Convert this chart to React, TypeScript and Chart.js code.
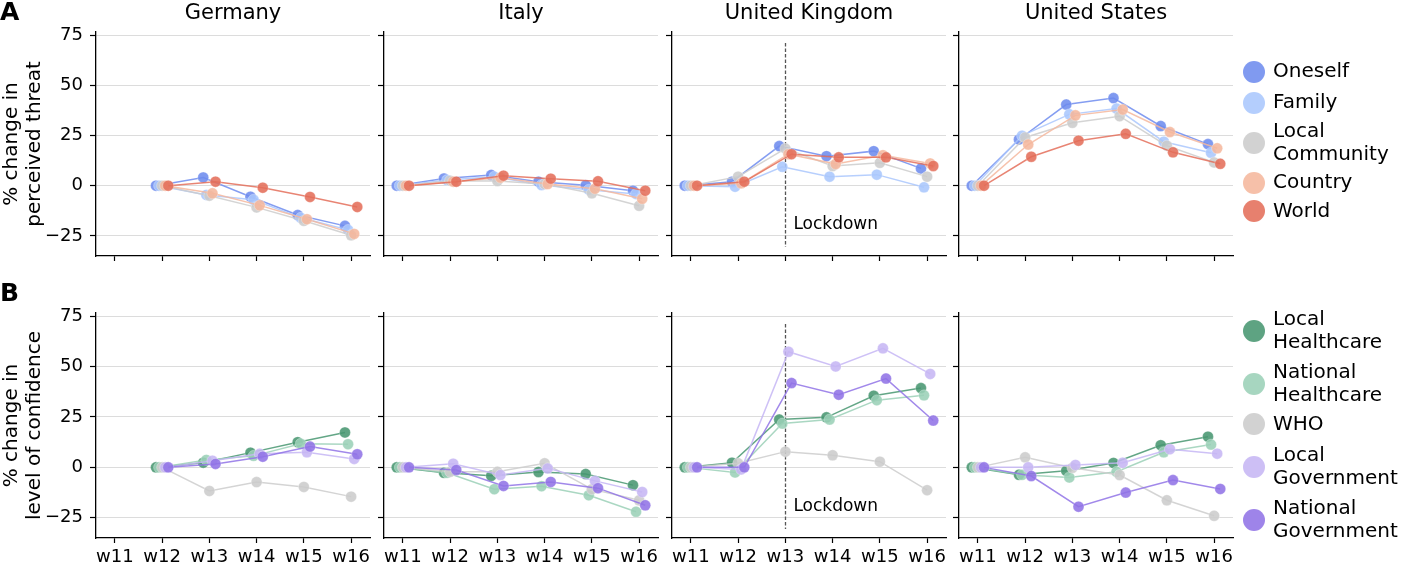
import React, { useEffect, useRef } from 'react';
import { Chart, registerables } from 'chart.js';

Chart.register(...registerables);

const FONT = '"DejaVu Sans", sans-serif';

// ---------- data ----------
const weeks = ['w11', 'w12', 'w13', 'w14', 'w15', 'w16'];
const countries = ['Germany', 'Italy', 'United Kingdom', 'United States'];
const threatSeries = ['Oneself', 'Family', 'Local Community', 'Country', 'World'];
const confidenceSeries = ['Local Healthcare', 'National Healthcare', 'WHO', 'Local Government', 'National Government'];
const yTicks = [-25, 0, 25, 50, 75];

// rows: one array per series, one value per week (null = no data)
const threatGermany = [
  [null, 0, 4.1, -5.5, -14.6, -20],
  [null, 0, -4.6, -7, -16, -22],
  [null, 0, -5, -10.8, -17.5, -24.7],
  [null, 0, -3.8, -9.8, -16.7, -24],
  [null, 0, 2, -1, -5.6, -10.6],
];
const threatItaly = [
  [0, 3.6, 5.3, 2, 0.2, -2.5],
  [0, 2.8, 4.5, 0.3, -2, -4.1],
  [0, 2.5, 2.3, 0.8, -3.8, -10],
  [0, 2, 4, 0.8, -1.5, -6.5],
  [0, 2, 5, 3.5, 2.2, -2.5],
];
const threatUK = [
  [0, 2, 19.7, 14.7, 17.2, 8.6],
  [0, -0.5, 9.4, 4.5, 5.5, -0.8],
  [0, 4.5, 18.5, 9.8, 11.4, 4.5],
  [0, 1.2, 15.7, 10.8, 15.2, 11.1],
  [0, 2, 15.7, 14.1, 14.1, 9.8],
];
const threatUS = [
  [0, 23, 40.4, 43.6, 29.7, 20.7],
  [0, 24.9, 35.5, 38.4, 21.9, 16.4],
  [0, 24, 31.3, 34.6, 19.9, 11.6],
  [0, 20.5, 35, 37.9, 26.7, 18.6],
  [0, 14.4, 22.4, 25.8, 16.6, 10.9],
];
const confGermany = [
  [null, 0, 2.3, 7.3, 12.5, 17.3],
  [null, 0, 3.7, 5.7, 11.7, 11.5],
  [null, 0, -11.7, -7.3, -9.7, -14.5],
  [null, 0, 3.3, 6.7, 7.5, 4.2],
  [null, 0, 1.7, 5.3, 10.3, 6.5],
];
const confItaly = [
  [0, -2.7, -4.2, -2.3, -3.3, -8.8],
  [0, -2.7, -10.8, -9.3, -13.8, -22],
  [0, -2.2, -2.2, 2, -10.8, -16.3],
  [0, 1.8, -3.8, -0.5, -6.7, -12.2],
  [0, -1.3, -9.2, -7.2, -10.3, -18.8],
];
const confUK = [
  [0, 2.3, 23.7, 24.8, 35.5, 39.3],
  [0, -2.5, 21.7, 23.7, 33.3, 35.7],
  [0, 2, 7.8, 6, 2.8, -11.3],
  [0, -1, 57.3, 50, 59, 46.3],
  [0, 0, 41.8, 36, 44, 23.2],
];
const confUS = [
  [0, -3.7, -1.7, 2.2, 11, 15.2],
  [0, -3.7, -5, -2.2, 7.5, 11.3],
  [0, 5, -0.2, -3.8, -16.3, -24],
  [0, 0, 1.2, 2.3, 9, 6.8],
  [0, -4.3, -19.5, -12.5, -6.3, -10.7],
];

const threatByCountry = [threatGermany, threatItaly, threatUK, threatUS];
const confByCountry = [confGermany, confItaly, confUK, confUS];
const lockdownWeek = 2; // index of w13, UK only

// ---------- styles ----------
const threatColors = [[110, 140, 238], [170, 199, 253], [204, 204, 204], [245, 183, 157], [228, 110, 90]];
const confColors = [[72, 150, 113], [155, 208, 183], [204, 204, 204], [198, 182, 244], [145, 115, 230]];
const dodge = [-0.13, -0.065, 0, 0.065, 0.13];

const COL_LEFT = [96, 384, 672, 959];
const PLOT_W = 274;
const EXTRA_R = 24; // spare canvas room on the right, kept as layout padding
const ROWS = [
  { top: 32, bottom: 256, canvasTop: 0, canvasBottom: 286 },
  { top: 313, bottom: 538, canvasTop: 270, canvasBottom: 566 },
];

const rgba = (c: number[], a: number) => `rgba(${c[0]},${c[1]},${c[2]},${a})`;
const fmt = (v: number) => String(v).replace('-', '\u2212');

const overlay = {
  id: 'overlay',
  beforeDatasetsDraw(chart: any, _args: any, opts: any) {
    if (!opts.lockdown) return;
    const { ctx } = chart;
    const x = chart.scales.x.getPixelForValue(lockdownWeek);
    const y0 = chart.scales.y.getPixelForValue(71);
    const y1 = chart.scales.y.getPixelForValue(-30.5);
    ctx.save();
    ctx.strokeStyle = '#555';
    ctx.lineWidth = 1.3;
    ctx.setLineDash([3.5, 2]);
    ctx.beginPath();
    ctx.moveTo(Math.round(x) + 0.5, y0);
    ctx.lineTo(Math.round(x) + 0.5, y1);
    ctx.stroke();
    ctx.restore();
  },
  afterDraw(chart: any, _args: any, opts: any) {
    const { ctx, chartArea } = chart;
    ctx.save();
    ctx.fillStyle = '#000';
    if (opts.title) {
      ctx.font = `21px ${FONT}`;
      ctx.textAlign = 'center';
      ctx.textBaseline = 'middle';
      ctx.fillText(opts.title, (chartArea.left + chartArea.right) / 2, 14);
    }
    if (opts.lockdown) {
      ctx.font = `17px ${FONT}`;
      ctx.textAlign = 'left';
      ctx.textBaseline = 'middle';
      ctx.fillText('Lockdown', chart.scales.x.getPixelForValue(lockdownWeek) + 8, chart.scales.y.getPixelForValue(-19.5));
    }
    ctx.restore();
  },
};

type PanelProps = {
  row: number;
  col: number;
  names: string[];
  values: (number | null)[][];
  colors: number[][];
  yTitle: string[];
};

function Panel({ row, col, names, values, colors, yTitle }: PanelProps) {
  const ref = useRef<HTMLCanvasElement>(null);
  const R = ROWS[row];
  const left = col === 0 ? 0 : COL_LEFT[col] - 12;
  const width = COL_LEFT[col] + PLOT_W + EXTRA_R - left;
  const height = R.canvasBottom - R.canvasTop;
  const yAxisW = COL_LEFT[col] - left;
  const xAxisH = R.canvasBottom - R.bottom;
  const wantTop = R.top - R.canvasTop;

  useEffect(() => {
    if (!ref.current) return;
    const datasets = names.map((name, i) => ({
      label: name,
      data: values[i]
        .map((v, w) => (v === null ? null : { x: w + dodge[i], y: v }))
        .filter((p) => p !== null),
      borderColor: rgba(colors[i], 0.85),
      backgroundColor: rgba(colors[i], 0.88),
      pointBackgroundColor: rgba(colors[i], 0.88),
      pointBorderColor: 'rgba(255,255,255,0.35)',
      pointBorderWidth: 0.8,
      pointRadius: 5.5,
      borderWidth: 1.5,
      tension: 0,
      order: -i,
    }));
    const chart = new Chart(ref.current, {
      type: 'line',
      data: { datasets } as any,
      options: {
        animation: false,
        responsive: false,
        maintainAspectRatio: false,
        events: [],
        layout: { padding: { top: wantTop, left: 0, right: EXTRA_R, bottom: 0 } },
        plugins: {
          legend: { display: false },
          tooltip: { enabled: false },
          title: { display: false },
          overlay: { title: row === 0 ? countries[col] : '', lockdown: col === 2 },
        } as any,
        scales: {
          x: {
            type: 'linear',
            min: -0.4,
            max: 5.4,
            afterBuildTicks: (s: any) => {
              s.ticks = weeks.map((_, i) => ({ value: i }));
            },
            afterFit: (s: any) => {
              s.height = xAxisH;
            },
            ticks: {
              autoSkip: false,
              maxRotation: 0,
              minRotation: 0,
              padding: 4,
              color: '#000',
              font: { family: FONT, size: 18 },
              callback: (v: any) => (row === 1 ? weeks[Math.round(v)] : ''),
            },
            grid: { drawOnChartArea: false, drawTicks: true, tickLength: 5, tickColor: '#000', tickWidth: 1.2 },
            border: { display: true, color: '#000', width: 1.3 },
          },
          y: {
            type: 'linear',
            min: -35,
            max: 76.5,
            afterBuildTicks: (s: any) => {
              s.ticks = yTicks.map((v) => ({ value: v }));
            },
            afterFit: (s: any) => {
              s.width = yAxisW;
            },
            ticks: {
              padding: 7,
              color: '#000',
              font: { family: FONT, size: 18 },
              callback: (v: any) => (col === 0 ? fmt(v) : ''),
            },
            grid: { color: '#dcdcdc', lineWidth: 1, drawTicks: true, tickLength: 6, tickColor: '#000', tickWidth: 1.2 },
            border: { display: true, color: '#000', width: 1.3 },
            title: {
              display: col === 0,
              text: yTitle,
              color: '#000',
              font: { family: FONT, size: 20, lineHeight: 1.15 },
              padding: 0,
            },
          },
        } as any,
      },
      plugins: [overlay as any],
    });
    return () => chart.destroy();
  }, []);

  return (
    <canvas
      ref={ref}
      width={width}
      height={height}
      style={{ position: 'absolute', left, top: R.canvasTop, width, height }}
    />
  );
}

type LegendProps = { names: string[]; colors: number[][]; centers: number[] };

function Legend({ names, colors, centers }: LegendProps) {
  const lineH = 23;
  return (
    <>
      {names.map((name, i) => {
        const lines = name.split(' ');
        const cy = centers[i];
        return (
          <React.Fragment key={name}>
            <div
              style={{
                position: 'absolute',
                left: 1254 - 11,
                top: cy - 11,
                width: 22,
                height: 22,
                borderRadius: '50%',
                background: rgba(colors[i], 0.88),
                boxSizing: 'border-box',
              }}
            />
            <div
              style={{
                position: 'absolute',
                left: 1273,
                top: cy - (lines.length * lineH) / 2 - 1,
                fontFamily: FONT,
                fontSize: 20,
                lineHeight: `${lineH}px`,
                color: '#000',
                whiteSpace: 'nowrap',
              }}
            >
              {lines.map((l) => (
                <div key={l}>{l}</div>
              ))}
            </div>
          </React.Fragment>
        );
      })}
    </>
  );
}

const panelLabelStyle: React.CSSProperties = {
  position: 'absolute',
  left: 0,
  fontFamily: FONT,
  fontWeight: 'bold',
  fontSize: 25,
  lineHeight: '25px',
  color: '#000',
};

export default function App() {
  return (
    <div style={{ position: 'absolute', left: 0, top: 0, width: 1401, height: 566, overflow: 'hidden', background: '#fff' }}>
      {countries.map((c, col) => (
        <Panel
          key={'t' + c}
          row={0}
          col={col}
          names={threatSeries}
          values={threatByCountry[col]}
          colors={threatColors}
          yTitle={['% change in', 'perceived threat']}
        />
      ))}
      {countries.map((c, col) => (
        <Panel
          key={'c' + c}
          row={1}
          col={col}
          names={confidenceSeries}
          values={confByCountry[col]}
          colors={confColors}
          yTitle={['% change in', 'level of confidence']}
        />
      ))}
      <Legend names={threatSeries} colors={threatColors} centers={[71.7, 102.7, 142.5, 182.7, 211]} />
      <Legend names={confidenceSeries} colors={confColors} centers={[331, 384, 424.3, 466.5, 519.5]} />
      <div style={{ ...panelLabelStyle, top: -1 }}>A</div>
      <div style={{ ...panelLabelStyle, top: 280 }}>B</div>
    </div>
  );
}
